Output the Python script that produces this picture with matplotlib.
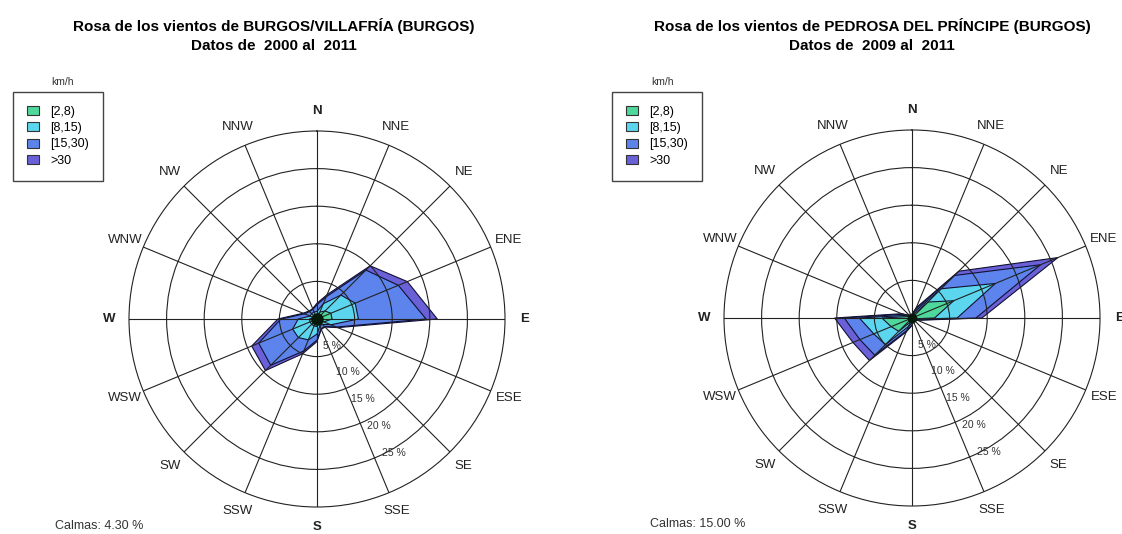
import numpy as np
import matplotlib
matplotlib.use("Agg")
from matplotlib import pyplot as plt
from matplotlib.patches import Patch

plt.rcParams['font.family'] = ['Liberation Sans', 'DejaVu Sans']

# wind directions and speed classes (km/h)
dirs = ['N', 'NNE', 'NE', 'ENE', 'E', 'ESE', 'SE', 'SSE',
        'S', 'SSW', 'SW', 'WSW', 'W', 'WNW', 'NW', 'NNW']
classes = ['[2,8)', '[8,15)', '[15,30)', '>30']
colors = ['#4fd89c', '#5cd6ee', '#5c84ec', '#6a60d8']
rings = [5, 10, 15, 20]

# BURGOS/VILLAFRIA 2000-2011, frequency (%) per direction and class
burgos_2_8 = [0.5, 1.0, 1.5, 2.0, 2.0, 1.0, 0.5, 0.5, 1.0, 1.0, 1.0, 1.0, 1.0, 0.5, 0.5, 0.5]
burgos_8_15 = [0.5, 1.2, 3.0, 3.5, 3.5, 1.0, 0.5, 0.5, 1.0, 2.0, 2.5, 2.5, 1.5, 0.5, 0.5, 0.5]
burgos_15_30 = [0.9, 1.0, 4.7, 6.2, 9.0, 0.8, 0.4, 0.4, 0.8, 1.6, 5.2, 4.9, 2.3, 0.8, 0.4, 0.4]
burgos_30 = [0.2, 0.3, 0.8, 1.3, 1.5, 0.2, 0.1, 0.1, 0.2, 0.4, 1.0, 1.0, 0.4, 0.2, 0.1, 0.1]
burgos_calm = 4.30

# PEDROSA DEL PRINCIPE 2009-2011
pedrosa_2_8 = [0.2, 0.5, 3.0, 6.0, 3.0, 0.3, 0.2, 0.2, 0.3, 0.6, 2.5, 3.0, 4.0, 0.5, 0.2, 0.2]
pedrosa_8_15 = [0.1, 0.4, 2.5, 6.0, 3.0, 0.2, 0.1, 0.1, 0.3, 0.6, 2.5, 2.5, 3.0, 0.4, 0.1, 0.1]
pedrosa_15_30 = [0.15, 0.4, 2.5, 6.5, 2.5, 0.2, 0.15, 0.15, 0.3, 0.6, 2.0, 2.0, 2.0, 0.4, 0.15, 0.15]
pedrosa_30 = [0.05, 0.2, 0.8, 2.5, 0.8, 0.1, 0.05, 0.05, 0.1, 0.2, 1.0, 1.0, 1.3, 0.2, 0.05, 0.05]
pedrosa_calm = 15.00


def rose(ax, series, calm, dot):
  '''draw one wind rose on a polar axes'''
  theta = np.deg2rad(np.arange(16) * 22.5)
  cum = np.cumsum(np.array(series), axis=0)
  th = np.append(theta, theta[0])
  # outer class first so inner ones sit on top
  for k in range(len(series) - 1, -1, -1):
    r = np.append(cum[k], cum[k][0])
    ax.fill(th, r, facecolor=colors[k], edgecolor='#111133', linewidth=0.8, zorder=1)
  ax.set_theta_zero_location('N')
  ax.set_theta_direction(-1)
  ax.set_ylim(0, 25)
  ax.set_rticks(rings)
  ax.set_yticklabels([])
  ax.set_xticks(theta)
  ax.set_xticklabels([])
  ax.set_axisbelow(False)
  ax.grid(True, color='#222222', linewidth=0.8)
  ax.spines['polar'].set_color('#222222')
  ax.spines['polar'].set_linewidth(0.8)
  ax.plot([0], [0], 'o', color='#061a0c', ms=dot, zorder=4)
  # compass labels
  for t, d in zip(theta, dirs):
    bold = 'bold' if len(d) == 1 else 'normal'
    ax.text(t, 27.6, d, ha='center', va='center', fontsize=9.5,
            fontweight=bold, color='#222222')
  # ring labels along SSE side
  for v in rings + [25]:
    ax.text(np.deg2rad(150), v * 0.82, f'{v} %', ha='center', va='center',
            fontsize=7.5, color='#333333')


fig = plt.figure(figsize=(11.22, 5.34), dpi=100)

ax1 = fig.add_axes([129 / 1122, 27 / 534, 376 / 1122, 376 / 534], projection='polar')
rose(ax1, [burgos_2_8, burgos_8_15, burgos_15_30, burgos_30], burgos_calm, 8)
ax2 = fig.add_axes([724 / 1122, 28 / 534, 376 / 1122, 376 / 534], projection='polar')
rose(ax2, [pedrosa_2_8, pedrosa_8_15, pedrosa_15_30, pedrosa_30], pedrosa_calm, 6)

# titles
fig.text(274 / 1122, 1 - 26 / 534, 'Rosa de los vientos de BURGOS/VILLAFRÍA (BURGOS)',
         ha='center', va='center', fontsize=11, fontweight='bold')
fig.text(274 / 1122, 1 - 46 / 534, 'Datos de  2000 al  2011',
         ha='center', va='center', fontsize=11, fontweight='bold')
fig.text(872 / 1122, 1 - 26 / 534, 'Rosa de los vientos de PEDROSA DEL PRÍNCIPE (BURGOS)',
         ha='center', va='center', fontsize=11, fontweight='bold')
fig.text(872 / 1122, 1 - 46 / 534, 'Datos de  2009 al  2011',
         ha='center', va='center', fontsize=11, fontweight='bold')

# legends
handles = [Patch(facecolor=c, edgecolor='#333333', linewidth=0.8) for c in colors]
for x0, xk in [(13, 62), (612, 662)]:
  fig.text(xk / 1122, 1 - 82 / 534, 'km/h', ha='center', va='center', fontsize=7.5, color='#333333')
  fig.legend(handles, classes, loc='upper left', bbox_to_anchor=(x0 / 1122, 1 - 92 / 534),
             fontsize=9, frameon=True, fancybox=False, edgecolor='#444444', framealpha=1,
             handlelength=1.0, handleheight=0.7, handletextpad=0.9, labelspacing=0.35,
             borderpad=1.1, borderaxespad=0)

fig.text(55 / 1122, 1 - 526 / 534, f'Calmas: {burgos_calm:.2f} %', ha='left', va='center',
         fontsize=9, color='#333333')
fig.text(650 / 1122, 1 - 524 / 534, f'Calmas: {pedrosa_calm:.2f} %', ha='left', va='center',
         fontsize=9, color='#333333')

fig.savefig('out.png', dpi=100)
